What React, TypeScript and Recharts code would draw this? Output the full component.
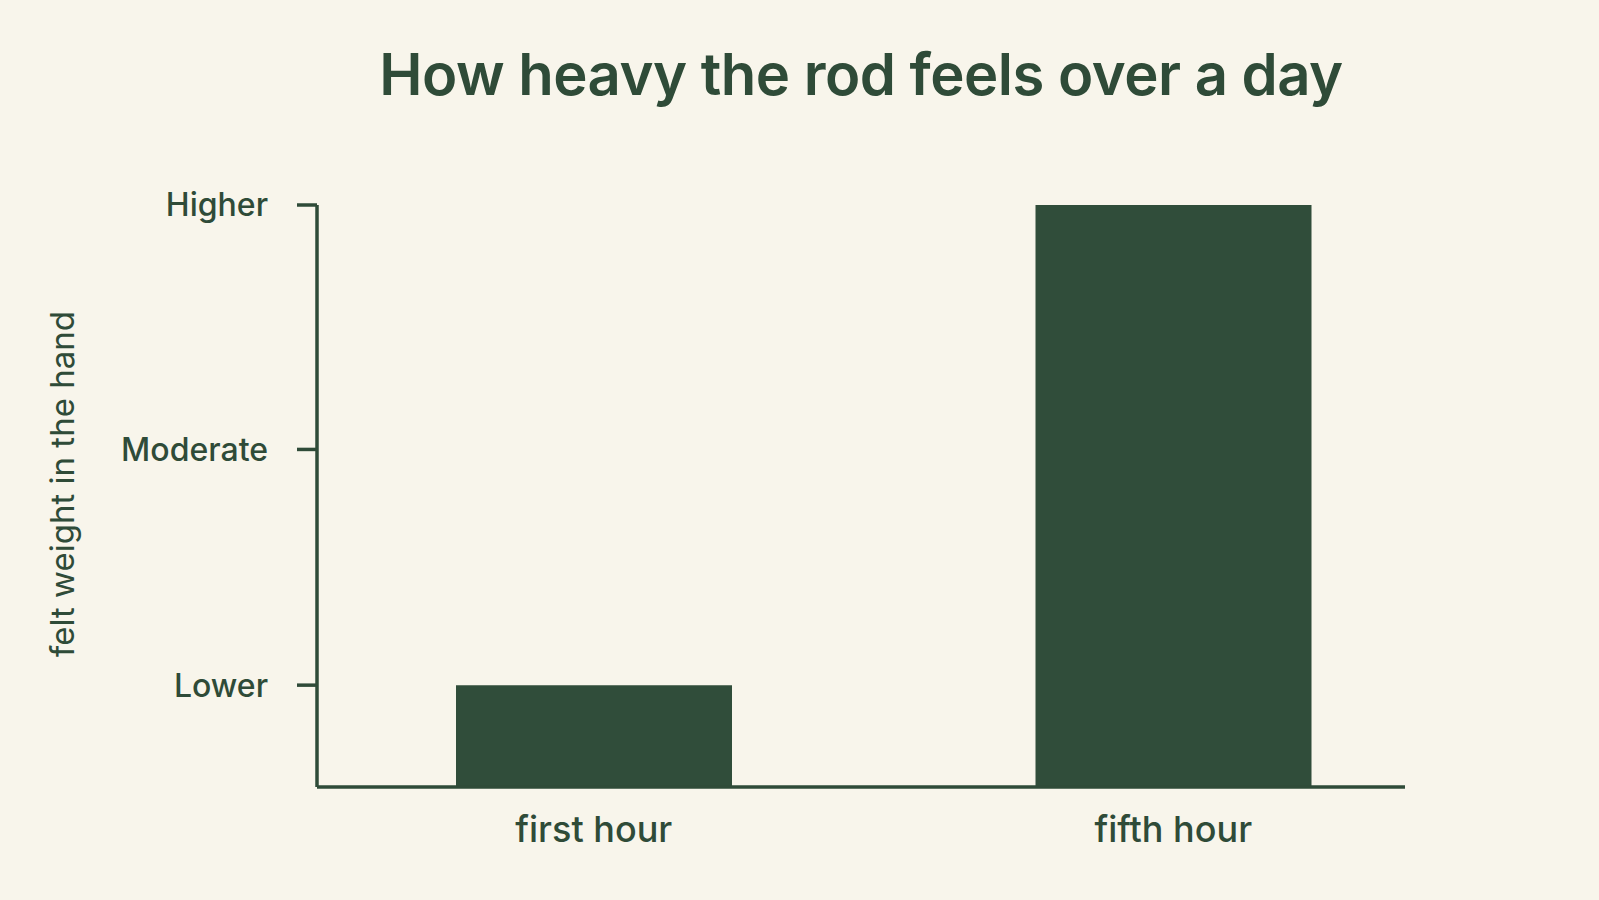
import { BarChart, Bar, XAxis, YAxis, Label } from 'recharts';

const hours = ['first hour', 'fifth hour'];
const feltWeight = [17.5, 100];
const levelTicks = [17.5, 58, 100];
const levelLabels = ['Lower', 'Moderate', 'Higher'];

const INK = '#2f4b38';
const BAR = '#304d3a';
const PAPER = '#f8f5eb';
const FONT = 'Inter, "Open Sans", sans-serif';

const data = hours.map((h, i) => ({ hour: h, weight: feltWeight[i] }));

const levelName = (v: number) => {
  const i = levelTicks.indexOf(v);
  return i >= 0 ? levelLabels[i] : '';
};

export default function App() {
  return (
    <div style={{ position: 'relative', width: 1599, height: 900, background: PAPER, fontFamily: FONT }}>
      <style>{'body{margin:0}'}</style>
      <div
        style={{
          position: 'absolute',
          top: 44,
          left: 317,
          width: 1088,
          textAlign: 'center',
          fontSize: 58,
          fontWeight: 600,
          lineHeight: '60px',
          color: INK,
          letterSpacing: -0.5,
        }}
      >
        How heavy the rod feels over a day
      </div>
      <BarChart
        width={1599}
        height={900}
        data={data}
        margin={{ top: 205, right: 194, bottom: 33, left: 0 }}
      >
        <XAxis
          dataKey="hour"
          padding={{ left: -13, right: -58 }}
          axisLine={{ stroke: INK, strokeWidth: 3.5 }}
          tickLine={false}
          tickSize={0}
          tickMargin={29}
          height={80}
          tick={{ fill: INK, fontSize: 36, fontWeight: 500, fontFamily: FONT }}
        />
        <YAxis
          type="number"
          domain={[0, 100]}
          ticks={levelTicks}
          tickFormatter={levelName}
          width={317}
          axisLine={{ stroke: INK, strokeWidth: 3.5 }}
          tickLine={{ stroke: INK, strokeWidth: 3.5 }}
          tickSize={20}
          tickMargin={29}
          tick={{ fill: INK, fontSize: 32, fontWeight: 500, fontFamily: FONT }}
        >
          <Label
            content={({ viewBox }: any) => {
              const cy = viewBox.y + viewBox.height / 2 - 12;
              return (
                <text
                  x={62}
                  y={cy}
                  transform={`rotate(-90, 62, ${cy})`}
                  textAnchor="middle"
                  dominantBaseline="central"
                  fill={INK}
                  fontSize={33}
                  fontFamily={FONT}
                >
                  felt weight in the hand
                </text>
              );
            }}
          />
        </YAxis>
        <Bar dataKey="weight" fill={BAR} barSize={276} isAnimationActive={false} />
      </BarChart>
    </div>
  );
}
